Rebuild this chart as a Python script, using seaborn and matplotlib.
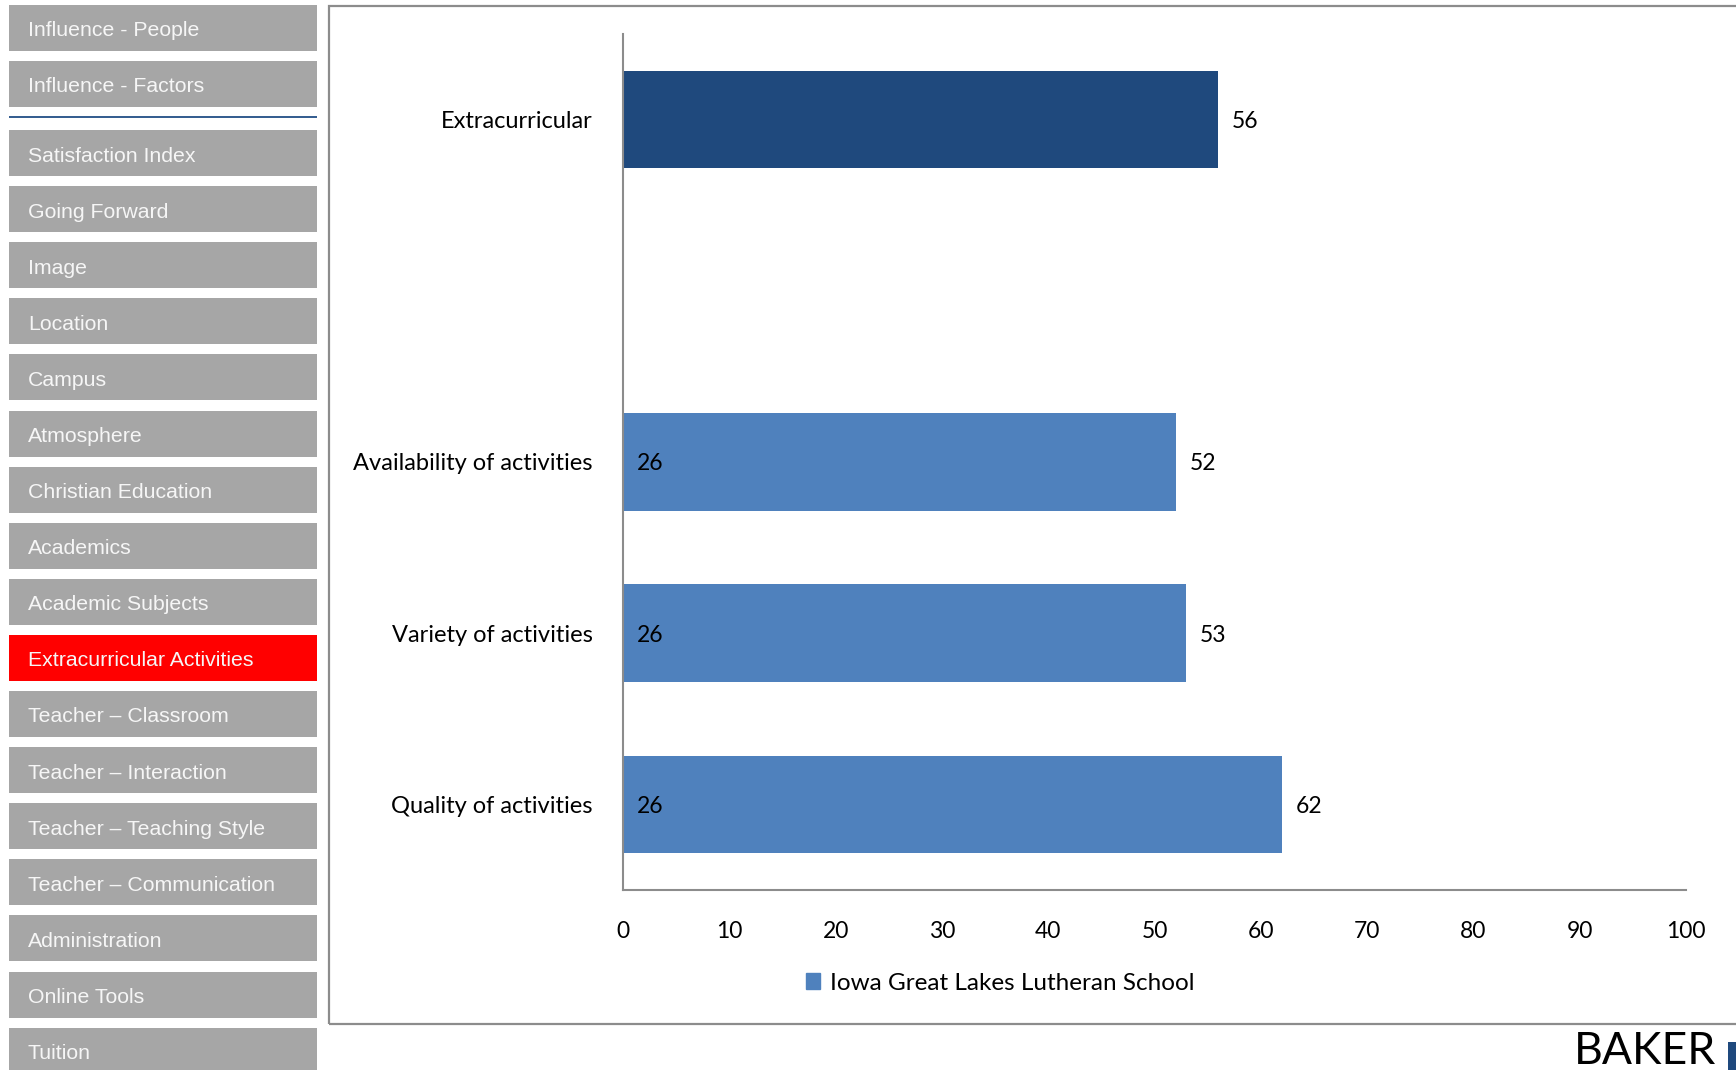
import numpy as np
import matplotlib.pyplot as plt
from matplotlib.patches import Rectangle, Patch
import pandas as pd
import seaborn as sb

# menu on the left
menu_top = ["Influence - People", "Influence - Factors"]
menu_items = ["Satisfaction Index", "Going Forward", "Image", "Location", "Campus",
              "Atmosphere", "Christian Education", "Academics", "Academic Subjects",
              "Extracurricular Activities", "Teacher \u2013 Classroom", "Teacher \u2013 Interaction",
              "Teacher \u2013 Teaching Style", "Teacher \u2013 Communication", "Administration",
              "Online Tools", "Tuition"]
active_item = "Extracurricular Activities"

# chart data
categories = ["Extracurricular", "", "Availability of activities", "Variety of activities", "Quality of activities"]
bar_labels = ["Extracurricular", "Availability of activities", "Variety of activities", "Quality of activities"]
scores = [56, 52, 53, 62]
counts = [None, 26, 26, 26]
bar_colors = ["#1F497D", "#4F81BD", "#4F81BD", "#4F81BD"]
legend_label = "Iowa Great Lakes Lutheran School"

W, H = 1736, 1070
fig = plt.figure(figsize=(W / 100, H / 100), dpi=100)
chart_font = "Lato"

def box(x0, y0, x1, y1, **kw):
    # pixel coords from top-left
    fig.patches.append(Rectangle((x0 / W, 1 - y1 / H), (x1 - x0) / W, (y1 - y0) / H,
                                 transform=fig.transFigure, **kw))

def menu_button(label, top, color="#A6A6A6"):
    box(9, top, 317, top + 46, facecolor=color, edgecolor="none")
    fig.text(28 / W, 1 - (top + 24) / H, label, color="#F6F6F6", fontsize=15.3,
             family="Liberation Sans", va="center_baseline", ha="left")

for i, name in enumerate(menu_top):
    menu_button(name, 5 + 56 * i)
box(9, 116, 317, 118, facecolor="#365F91", edgecolor="none")
for i, name in enumerate(menu_items):
    menu_button(name, 130 + 56.1 * i, "#FF0000" if name == active_item else "#A6A6A6")

# chart frame
box(329, 6, 1745, 1024, facecolor="none", edgecolor="#8C8C8C", linewidth=1.6)

ax = fig.add_axes([623 / W, 1 - 890 / H, (1686 - 623) / W, (890 - 34) / H])
df = pd.DataFrame({"category": bar_labels, "score": scores})
sb.barplot(data=df, y="category", x="score", hue="category", order=categories,
           palette=dict(zip(bar_labels, bar_colors)), width=0.57, saturation=1,
           legend=False, ax=ax)

ax.set_xlim(0, 100)
ax.set_xticks(range(0, 101, 10))
ax.set_xlabel("")
ax.set_ylabel("")
for s in ["top", "right"]:
    ax.spines[s].set_visible(False)
for s in ["left", "bottom"]:
    ax.spines[s].set_color("#8C8C8C")
    ax.spines[s].set_linewidth(1.5)
ax.tick_params(axis="x", length=0, pad=22, labelsize=16.5)
ax.tick_params(axis="y", length=0, pad=22, labelsize=17)
for lab in ax.get_xticklabels() + ax.get_yticklabels():
    lab.set_family(chart_font)
for lab in ax.get_yticklabels():
    lab.set_va("center_baseline")

for c in ax.containers:
    for t in ax.bar_label(c, padding=10, fontsize=16.5, family=chart_font):
        t.set_va("center_baseline")

for cat, n in zip(bar_labels, counts):
    if n is not None:
        ax.text(1.3, categories.index(cat), str(n), va="center_baseline", ha="left",
                fontsize=16.5, family=chart_font)

fig.legend(handles=[Patch(color="#4F81BD", label=legend_label)], loc="center",
           bbox_to_anchor=(1000 / W, 1 - 983 / H), frameon=False,
           prop={"family": chart_font, "size": 17.5}, handlelength=0.6, handleheight=0.6,
           handletextpad=0.4)

fig.text(1716 / W, 1 - 1051 / H, "BAKER", fontsize=32, family=chart_font,
         ha="right", va="center")
box(1728, 1042, 1736, 1070, facecolor="#1F497D", edgecolor="none")

fig.savefig("out.png", dpi=100)
